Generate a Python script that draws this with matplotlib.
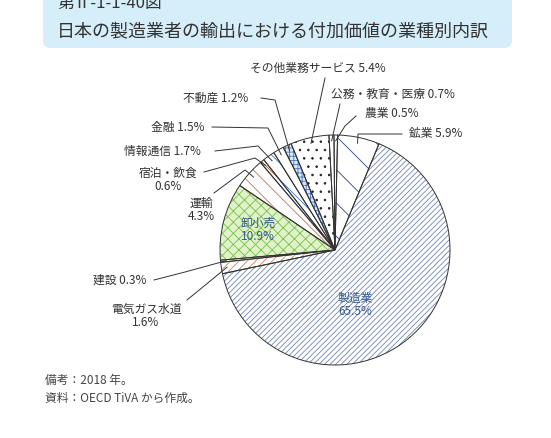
import matplotlib
matplotlib.use("Agg")
import matplotlib.pyplot as plt
from matplotlib.patches import FancyBboxPatch
import numpy as np

plt.rcParams['font.family'] = ['Noto Sans CJK JP', 'DejaVu Sans']
plt.rcParams['hatch.linewidth'] = 0.6

categories = ['農業', '鉱業', '製造業', '電気ガス水道', '建設', '卸小売', '運輸', '宿泊・飲食',
              '情報通信', '金融', '不動産', 'その他業務サービス', '公務・教育・医療']
values = [0.5, 5.9, 65.5, 1.6, 0.3, 10.9, 4.3, 0.6, 1.7, 1.5, 1.2, 5.4, 0.7]

fills = ['white', 'white', 'white', 'white', 'white', '#dff2c8', 'white', 'white',
         'white', 'white', '#dce8f8', 'white', 'white']
hcols = ['#555555', '#2e3f86', '#6f86b0', '#d0805a', '#d0805a', '#7cbf50', '#c8704a', '#a0603a',
         '#3a78c0', '#6090c0', '#4a7cc8', '#222222', '#555555']
hatches = [None, '\\', '//////', '////', None, 'xxx', '\\\\', '\\', '\\\\', None, '++++', '..', None]

fig = plt.figure(figsize=(5.51, 4.38), dpi=100)
bg = fig.add_axes([0, 0, 1, 1]); bg.set_xlim(0, 551); bg.set_ylim(438, 0); bg.axis('off')
bg.add_patch(FancyBboxPatch((43, -10), 469, 58, boxstyle="round,pad=0,rounding_size=8",
                            fc='#d5eef9', ec='none'))
bg.text(57, 3, '第Ⅱ-1-1-40図', fontsize=12, color='#333333', va='center')
bg.text(57, 31, '日本の製造業者の輸出における付加価値の業種別内訳', fontsize=13, color='#333333', va='center')
bg.text(45, 380, '備考：2018 年。', fontsize=8.5, color='#444444', va='center')
bg.text(45, 398, '資料：OECD TiVA から作成。', fontsize=8.5, color='#444444', va='center')

ax = fig.add_axes([220/551, 73/438, 230/551, 230/438])
wedges, _ = ax.pie(values, startangle=90.5, counterclock=False, radius=1)
for w, f, h, c in zip(wedges, fills, hatches, hcols):
    w.set_facecolor(f); w.set_edgecolor(c); w.set_hatch(h); w.set_linewidth(0)
w2, _ = ax.pie(values, startangle=90.5, counterclock=False, radius=1,
               wedgeprops=dict(fill=False, edgecolor='#333333', linewidth=0.7))
ax.set_aspect('auto')
ax.set_xlim(-1, 1); ax.set_ylim(-1, 1); ax.axis('off')

def d(px, py):
    return ((px - 335) / 115, (250 - py) / 115)

def mid(i, r=0.95):
    w = wedges[i]
    a = np.deg2rad((w.theta1 + w.theta2) / 2)
    return r * np.cos(a), r * np.sin(a)

tc = '#333333'
fs = 8.5
labels = [
    (11, 'その他業務サービス 5.4%', (318, 68), 'center', [(325, 78)]),
    (12, '公務・教育・医療 0.7%', (393, 94), 'center', [(340, 104)]),
    (0, '農業 0.5%', (392, 114), 'center', [(356, 116), (345, 126)]),
    (1, '鉱業 5.9%', (436, 134), 'center', [(402, 134), (358, 134)]),
    (10, '不動産 1.2%', (216, 98), 'center', [(261, 98), (275, 100)]),
    (9, '金融 1.5%', (178, 127), 'center', [(212, 127), (268, 128)]),
    (8, '情報通信 1.7%', (162, 151), 'center', [(215, 151), (258, 146)]),
    (7, '宿泊・飲食\n0.6%', (168, 180), 'center', [(204, 172), (255, 158)]),
    (6, '運輸\n4.3%', (201, 210), 'center', [(214, 193), (245, 170)]),
    (4, '建設 0.3%', (120, 280), 'center', [(154, 280), (185, 272)]),
    (3, '電気ガス水道\n1.6%', (146, 316), 'center', [(187, 300)]),
]
for i, t, (px, py), ha, pts in labels:
    x, y = d(px, py)
    ax.text(x, y, t, fontsize=fs, color=tc, ha=ha, va='center', linespacing=1.0)
    seg = [d(*p) for p in pts] + [mid(i)]
    xs, ys = zip(*seg)
    ax.plot(xs, ys, color='#333333', lw=0.7, clip_on=False)

for px, py, t in [(258, 230, '卸小売\n10.9%'), (355, 305, '製造業\n65.5%')]:
    x, y = d(px, py)
    ax.text(x, y, t, fontsize=fs, color='#3a5a90', ha='center', va='center', linespacing=1.0)

fig.savefig('out.png', dpi=100)
